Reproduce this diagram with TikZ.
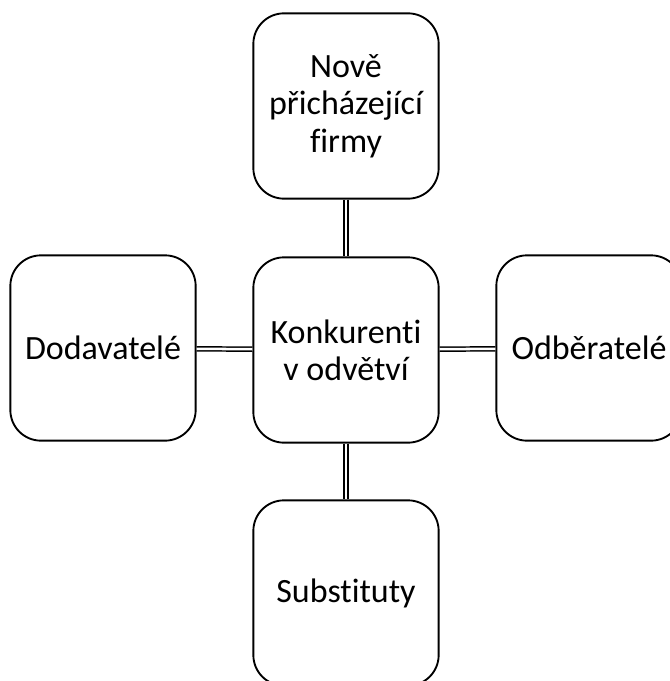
\documentclass[tikz,border=0pt]{standalone}
\usepackage{fontspec}
\setmainfont{Carlito}[Ligatures=NoCommon]
\begin{document}
\begin{tikzpicture}[x=0.75pt, y=-0.75pt,
    every node/.style={rectangle, rounded corners=23pt, draw, line width=1.4pt,
      minimum width=139pt, minimum height=139pt, align=center,
      font=\fontsize{25.5}{28}\selectfont},
    link/.style={double, double distance=1.9pt, line width=1.1pt}]
            \useasboundingbox (0,0) rectangle (670,681);

            % Prostredni rada
            \node (L) at (103,348) {Dodavatelé};
            \node (S) at (346,350) {Konkurenti\\v odvětví};
            \node (P) at (589,348) {Odběratelé};

            % Horni a dolni box
            \node (N) at (346,106) {Nově\\přicházející\\firmy};
            \node (B) at (346,593) {Substituty};

            % Spojnice
            \draw[link] (N) -- (S);
            \draw[link] (S) -- (B);
            \draw[link] (L) -- (S);
            \draw[link] (S) -- (P);
        \end{tikzpicture}
\end{document}
